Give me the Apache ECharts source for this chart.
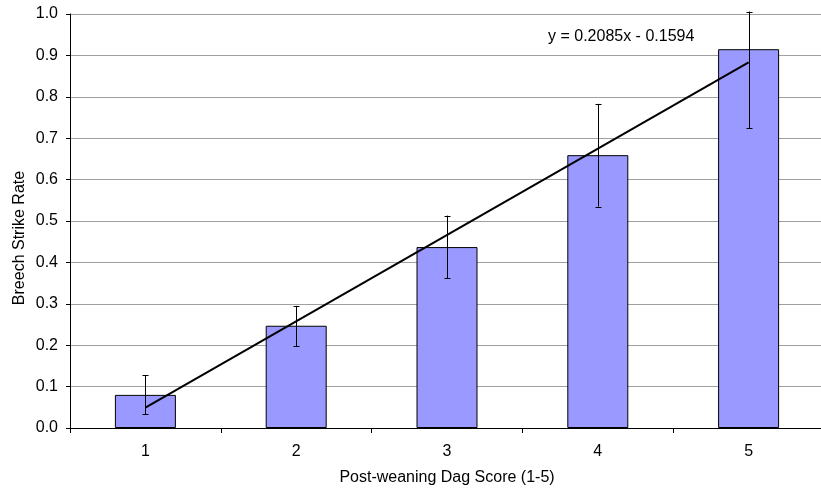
<!DOCTYPE html>
<html>
<head>
<meta charset="utf-8">
<script src="https://cdn.jsdelivr.net/npm/echarts@6/dist/echarts.min.js"></script>
<style>
html,body{margin:0;padding:0;background:#fff;overflow:hidden;width:821px;height:489px;}
#chart{width:830px;height:489px;}
</style>
</head>
<body>
<div id="chart"></div>
<script>
// Data
var categories = ['1', '2', '3', '4', '5'];
var rates = [0.080, 0.247, 0.437, 0.659, 0.915];
var errLow = [0.033, 0.198, 0.362, 0.535, 0.724];
var errHigh = [0.127, 0.295, 0.513, 0.783, 1.006];
var trendValues = [0.049, null, null, null, 0.883];
var equationText = 'y = 0.2085x - 0.1594';
var xTitle = 'Post-weaning Dag Score (1-5)';
var yTitle = 'Breech Strike Rate';

var FONT = '"Liberation Sans", Arial, sans-serif';
var chart = echarts.init(document.getElementById('chart'));

var errData = categories.map(function (c, i) { return [i, errLow[i], errHigh[i]]; });

chart.setOption({
  animation: false,
  backgroundColor: '#ffffff',
  grid: { left: 70, top: 14, width: 754, height: 414, containLabel: false },
  xAxis: {
    type: 'category',
    data: categories,
    boundaryGap: true,
    axisLine: { lineStyle: { color: '#000', width: 1 } },
    axisTick: { show: true, length: 5, lineStyle: { color: '#000' }, alignWithLabel: false },
    axisLabel: { color: '#000', fontFamily: FONT, fontSize: 16, margin: 16 },
    splitLine: { show: false }
  },
  yAxis: {
    type: 'value',
    min: 0, max: 1, interval: 0.1,
    axisLine: { show: true, lineStyle: { color: '#000', width: 1 } },
    axisTick: { show: true, length: 4, lineStyle: { color: '#000' } },
    axisLabel: {
      color: '#000', fontFamily: FONT, fontSize: 16, margin: 12,
      formatter: function (v) { return v.toFixed(1); }
    },
    splitLine: { show: true, lineStyle: { color: '#a0a0a0', width: 1 } }
  },
  graphic: [
    { type: 'text', silent: true,
      style: { text: yTitle, fontFamily: FONT, fontSize: 16, fill: '#000', align: 'center', verticalAlign: 'middle' },
      x: 20, y: 238, rotation: Math.PI / 2 },
    { type: 'text', silent: true,
      style: { text: xTitle, fontFamily: FONT, fontSize: 16, fill: '#000', align: 'center', verticalAlign: 'middle' },
      x: 447, y: 478 },
    { type: 'text', silent: true,
      style: { text: equationText, fontFamily: FONT, fontSize: 16, fill: '#000', align: 'left', verticalAlign: 'middle' },
      x: 548, y: 37 }
  ],
  series: [
    {
      type: 'bar',
      data: rates,
      barWidth: 61,
      itemStyle: { color: '#9999ff', borderColor: '#000', borderWidth: 1 },
      z: 2
    },
    {
      type: 'custom',
      data: errData,
      clip: false,
      z: 4,
      renderItem: function (params, api) {
        var lo = api.coord([api.value(0), api.value(1)]);
        var hi = api.coord([api.value(0), api.value(2)]);
        var x = Math.round(lo[0]) + 0.5;
        var hw = 3;
        var style = { stroke: '#000', lineWidth: 1, fill: null };
        return {
          type: 'group',
          children: [
            { type: 'line', shape: { x1: x, y1: hi[1], x2: x, y2: lo[1] }, style: style },
            { type: 'line', shape: { x1: x - hw, y1: Math.round(hi[1]) + 0.5, x2: x + hw, y2: Math.round(hi[1]) + 0.5 }, style: style },
            { type: 'line', shape: { x1: x - hw, y1: Math.round(lo[1]) + 0.5, x2: x + hw, y2: Math.round(lo[1]) + 0.5 }, style: style }
          ]
        };
      }
    },
    {
      type: 'line',
      data: trendValues,
      connectNulls: true,
      symbol: 'none',
      lineStyle: { color: '#000', width: 2 },
      z: 5
    }
  ]
});
</script>
</body>
</html>
